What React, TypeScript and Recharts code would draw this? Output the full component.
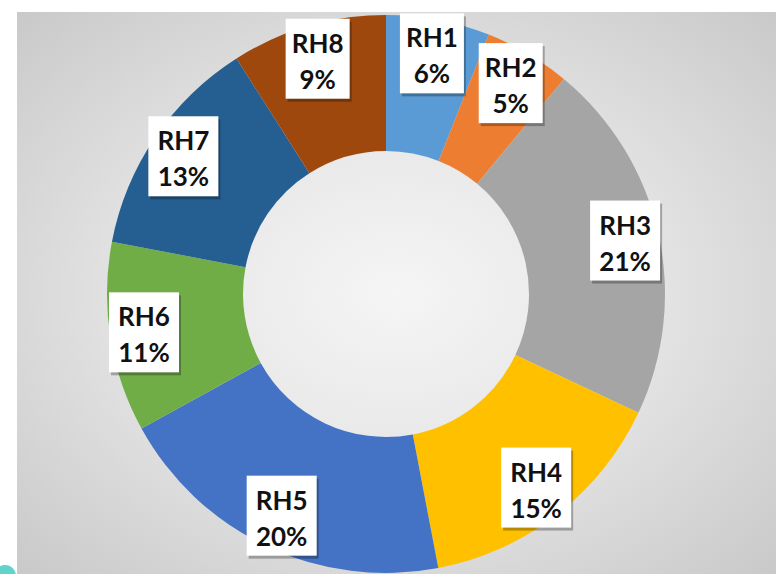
import { PieChart, Pie, Cell } from "recharts";

const categories = ["RH1", "RH2", "RH3", "RH4", "RH5", "RH6", "RH7", "RH8"];
const shares = [6, 5, 21, 15, 20, 11, 13, 9];
const colors = ["#5B9BD5", "#ED7D31", "#A5A5A5", "#FFC000", "#4472C4", "#70AD47", "#255E91", "#9E480E"];

const data = categories.map((name, i) => ({ name, value: shares[i] }));

const RAD = Math.PI / 180;

const renderLabel = (props: any) => {
  const { cx, cy, midAngle, innerRadius, outerRadius, index } = props;
  const r = innerRadius + (outerRadius - innerRadius) * 0.75;
  const x = cx + r * Math.cos(-midAngle * RAD);
  const y = cy + r * Math.sin(-midAngle * RAD);
  const pct = `${shares[index]}%`;
  const w = pct.length > 2 ? 70 : 64;
  const h = 80;
  return (
    <g>
      <rect x={x - w / 2 + 2} y={y - h / 2 + 3} width={w} height={h} fill="rgba(0,0,0,0.28)" />
      <rect x={x - w / 2} y={y - h / 2} width={w} height={h} fill="#ffffff" />
      <text x={x} y={y - 16} textAnchor="middle" dominantBaseline="central" fontFamily="Lato" fontWeight="bold" fontSize={26} fill="#111">
        {categories[index]}
      </text>
      <text x={x} y={y + 20} textAnchor="middle" dominantBaseline="central" fontFamily="Lato" fontWeight="bold" fontSize={26} fill="#111">
        {pct}
      </text>
    </g>
  );
};

export default function App() {
  return (
    <div style={{ position: "absolute", left: 0, top: 0, width: 776, height: 574, background: "#ffffff", overflow: "hidden" }}>
      <div
        style={{
          position: "absolute", left: 17, top: 12, width: 759, height: 562,
          background: "radial-gradient(ellipse at 50% 50%, #f5f5f5 0%, #e8e8e8 40%, #c9c9c9 100%)",
        }}
      />
      <div style={{ position: "absolute", left: -6, top: 565, width: 22, height: 22, borderRadius: "50%", background: "#5fd3cc" }} />
      <div style={{ position: "absolute", left: 0, top: 0 }}>
        <PieChart width={776} height={574}>
          <Pie
            data={data}
            dataKey="value"
            nameKey="name"
            cx={381}
            cy={289}
            innerRadius={143}
            outerRadius={279}
            startAngle={90}
            endAngle={-270}
            stroke="none"
            label={renderLabel}
            labelLine={false}
            isAnimationActive={false}
          >
            {data.map((d, i) => (
              <Cell key={d.name} fill={colors[i]} />
            ))}
          </Pie>
        </PieChart>
      </div>
    </div>
  );
}
